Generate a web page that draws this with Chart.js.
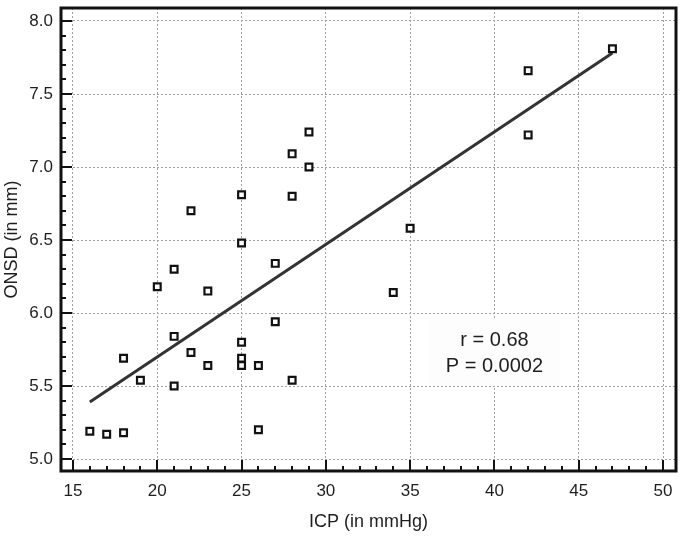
<!DOCTYPE html>
<html>
<head>
<meta charset="utf-8">
<script src="https://cdn.jsdelivr.net/npm/chart.js@4"></script>
<style>
  html, body { margin: 0; padding: 0; background: #ffffff; }
  canvas { display: block; }
</style>
</head>
<body>
<canvas id="c" width="685" height="538"></canvas>
<script>
// ---- data ----
const icp  = [16, 17, 18, 18, 19, 20, 21, 21, 21, 22, 22, 23, 23, 25, 25, 25, 25, 25, 26, 26, 27, 27, 28, 28, 28, 29, 29, 34, 35, 42, 42, 47];
const onsd = [5.19, 5.17, 5.18, 5.69, 5.54, 6.18, 6.30, 5.84, 5.50, 6.70, 5.73, 6.15, 5.64, 6.81, 6.48, 5.80, 5.69, 5.64, 5.64, 5.20, 6.34, 5.94, 7.09, 6.80, 5.54, 7.24, 7.00, 6.14, 6.58, 7.66, 7.22, 7.81];
const fitX = [16, 47];
const fitY = [5.39, 7.78];
const xTicks = [15, 20, 25, 30, 35, 40, 45, 50];
const xLabels = ['15', '20', '25', '30', '35', '40', '45', '50'];
const yTicks = [5.0, 5.5, 6.0, 6.5, 7.0, 7.5, 8.0];
const yLabels = ['5.0', '5.5', '6.0', '6.5', '7.0', '7.5', '8.0'];
const xTitle = 'ICP (in mmHg)';
const yTitle = 'ONSD (in mm)';
const statLines = ['r = 0.68', 'P = 0.0002'];
const statAt = {x: 40, y: 5.72};

const FONT = "'Liberation Sans', Arial, Helvetica, sans-serif";
const TXT = '#1e1e1e';

const framePlugin = {
  id: 'frame',
  beforeDatasetsDraw(chart) {
    const {ctx, chartArea: a, scales: {x, y}} = chart;
    ctx.save();
    ctx.strokeStyle = '#111';
    ctx.lineWidth = 2;
    ctx.beginPath();
    for (let v = 15; v <= 50; v += 1) {
      const px = Math.round(x.getPixelForValue(v));
      const len = (v % 5 === 0) ? 11 : 5;
      ctx.moveTo(px, a.bottom);
      ctx.lineTo(px, a.bottom - len);
    }
    for (let k = 50; k <= 80; k += 1) {
      const py = Math.round(y.getPixelForValue(k / 10));
      const len = (k % 5 === 0) ? 11 : 5;
      ctx.moveTo(a.left, py);
      ctx.lineTo(a.left + len, py);
    }
    ctx.stroke();
    ctx.lineWidth = 3;
    ctx.strokeRect(a.left, a.top, a.right - a.left, a.bottom - a.top);
    ctx.restore();
  },
  afterDatasetsDraw(chart) {
    const {ctx, scales: {x, y}} = chart;
    const cx = x.getPixelForValue(statAt.x);
    const cy = y.getPixelForValue(statAt.y);
    ctx.save();
    ctx.fillStyle = '#fdfdfd';
    ctx.fillRect(cx - 66, cy - 36, 132, 68);
    ctx.fillStyle = TXT;
    ctx.font = '20px ' + FONT;
    ctx.textAlign = 'center';
    ctx.textBaseline = 'middle';
    ctx.fillText(statLines[0], cx, cy - 13);
    ctx.fillText(statLines[1], cx, cy + 13);
    ctx.restore();
  }
};

new Chart(document.getElementById('c'), {
  type: 'scatter',
  data: {
    datasets: [
      {
        type: 'line',
        data: fitX.map((v, i) => ({x: v, y: fitY[i]})),
        borderColor: '#333333',
        borderWidth: 3,
        pointRadius: 0,
        fill: false,
        order: 2
      },
      {
        data: icp.map((v, i) => ({x: v, y: onsd[i]})),
        pointStyle: 'rect',
        pointRadius: 4.8,
        pointBackgroundColor: '#ffffff',
        pointBorderColor: '#111111',
        pointBorderWidth: 2.2,
        showLine: false,
        order: 1
      }
    ]
  },
  options: {
    responsive: false,
    animation: false,
    devicePixelRatio: 1,
    layout: {padding: {top: 8, right: 9, left: 0, bottom: 0}},
    plugins: {legend: {display: false}, tooltip: {enabled: false}},
    scales: {
      x: {
        type: 'linear',
        min: 14.29, max: 50.77,
        afterBuildTicks: s => { s.ticks = xTicks.map(v => ({value: v})); },
        afterFit: s => { s.height = 67; s.paddingLeft = 0; s.paddingRight = 0; },
        grid: {color: '#a0a0a0', lineWidth: 1, drawTicks: false},
        border: {display: false, dash: [2, 2]},
        ticks: {
          padding: 10, color: TXT, maxRotation: 0, autoSkip: false,
          font: {family: FONT, size: 17},
          callback: (v, i) => xLabels[i]
        },
        title: {display: true, text: xTitle, color: TXT, font: {family: FONT, size: 18}, padding: {top: 0, bottom: 5}}
      },
      y: {
        type: 'linear',
        min: 4.918, max: 8.089,
        afterBuildTicks: s => { s.ticks = yTicks.map(v => ({value: v})); },
        afterFit: s => { s.width = 61; s.paddingTop = 0; s.paddingBottom = 0; },
        grid: {color: '#a0a0a0', lineWidth: 1, drawTicks: false},
        border: {display: false, dash: [2, 2]},
        ticks: {
          padding: 8, color: TXT, autoSkip: false,
          font: {family: FONT, size: 17},
          callback: (v, i) => yLabels[i]
        },
        title: {display: true, text: yTitle, color: TXT, font: {family: FONT, size: 18}, padding: {top: 1, bottom: 0}}
      }
    }
  },
  plugins: [framePlugin]
});
</script>
</body>
</html>
